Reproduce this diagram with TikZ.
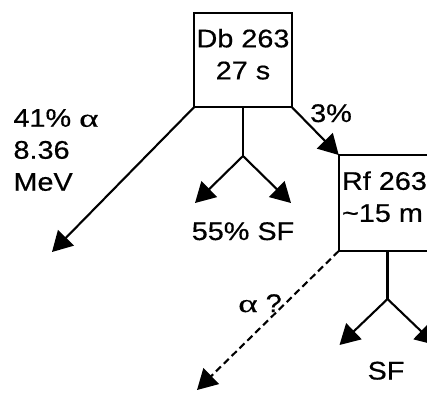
\documentclass[tikz,border=0pt]{standalone}
\usepackage{fontspec}
\setmainfont{Liberation Sans}[FakeStretch=1.13, FakeBold=0.5]
\newfontfamily\grk{Liberation Serif}[FakeStretch=1.45, FakeBold=0.5]
\usetikzlibrary{arrows.meta}
\tikzset{
  every node/.style={inner sep=0pt, outer sep=0pt, font=\fontsize{25.5}{32}\selectfont},
  nucbox/.style={draw, line width=2.1pt, minimum width=97.5pt, minimum height=94pt},
  link/.style={line width=2.1pt},
  decay/.style={line width=2.1pt, -{Triangle[length=20pt, width=22pt]}},
  maybe/.style={decay, dash pattern=on 7pt off 4pt},
}
\begin{document}
\begin{tikzpicture}[x=1pt, y=-1pt]
  \useasboundingbox (0,0) rectangle (427,392);
  \clip (0,0) rectangle (427,392);

  % parent nucleus
  \node[nucbox] (db) at (243,60) {};
  \node[align=center] (dbtext) at (243,54.2) {Db 263\\27 s};

  % daughter nucleus
  \node[nucbox, minimum height=96pt] (rf) at (387.5,203) {};
  \node[align=left, anchor=west] (rftext) at (342,196.7) {Rf 263\\\textasciitilde15 m};

  % end points of the decay branches
  \coordinate (alphaend) at (52,252);
  \coordinate (dbsplit) at (243,156);
  \coordinate (dbsfl) at (195,203);
  \coordinate (dbsfr) at (291,203);
  \coordinate (rfalpha) at (197,390);
  \coordinate (rfsplit) at (387.5,299);
  \coordinate (rfsfl) at (339.5,345);
  \coordinate (rfsfr) at (435.5,345);

  % Db 263 branches
  \draw[decay] (db.south west) -- (alphaend);
  \draw[link] (db.south) -- (dbsplit);
  \draw[decay] (dbsplit) -- (dbsfl);
  \draw[decay] (dbsplit) -- (dbsfr);
  \draw[decay] (db.south east) -- (rf.north west);

  % Rf 263 branches
  \draw[maybe] (rf.south west) -- (rfalpha);
  \draw[link] (rf.south) -- (rfsplit);
  \draw[decay] (rfsplit) -- (rfsfl);
  \draw[decay] (rfsplit) -- (rfsfr);

  % branch labels
  \node[align=left, anchor=west] (alphalabel) at (13.5,150) {41\% {\grk α}\\8.36\\MeV};
  \node[anchor=base] (eclabel) at (331,122) {3\%};
  \node[anchor=base] (sflabel) at (243,240) {55\% SF};
  \node[anchor=base] (rfalphalabel) at (260,312) {{\grk α} ?};
  \node[anchor=base] (rfsflabel) at (386,379.5) {SF};
\end{tikzpicture}
\end{document}
